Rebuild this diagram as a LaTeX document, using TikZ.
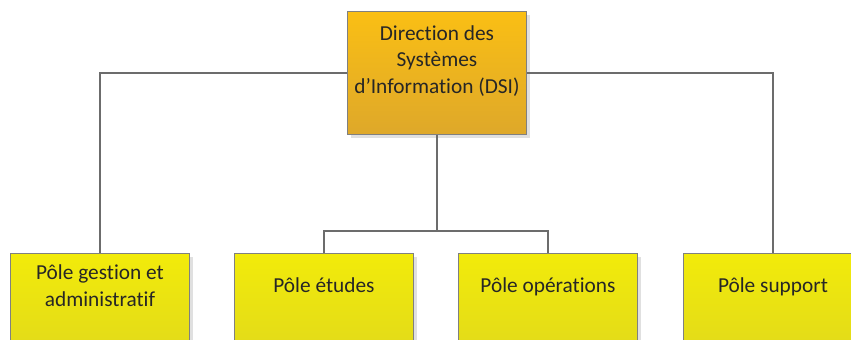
\documentclass[tikz,border=0pt]{standalone}
\usepackage{fontspec}
\setmainfont{Carlito}[Ligatures=NoCommon]
\usetikzlibrary{shadows}
\definecolor{dsitop}{RGB}{250,191,20}
\definecolor{dsibot}{RGB}{222,168,42}
\definecolor{poletop}{RGB}{242,235,10}
\definecolor{polebot}{RGB}{222,214,30}
\definecolor{linkgray}{RGB}{108,108,108}
\definecolor{boxgray}{RGB}{128,128,128}
\tikzset{
  unit/.style={draw=boxgray, line width=0.8pt, minimum width=5.37cm, minimum height=3.69cm,
    anchor=north west, drop shadow={shadow xshift=0.12cm, shadow yshift=-0.12cm, fill=black!12, opacity=1}},
  dsi/.style={unit, top color=dsitop, bottom color=dsibot},
  pole/.style={unit, top color=poletop, bottom color=polebot},
  lbl/.style={align=center, font=\fontsize{18.2}{22.4}\selectfont, text=black!85, text depth=0.25em},
  link/.style={draw=linkgray, line width=2.4pt}
}
\begin{document}
\begin{tikzpicture}
\useasboundingbox (0,0) rectangle (25.53,-10.2);
\clip (0,0) rectangle (25.53,-10.2);
% boxes
\node[dsi] (dsi) at (10.41,-0.33) {};
\node[pole] (gest) at (0.30,-7.59) {};
\node[pole] (etud) at (7.02,-7.59) {};
\node[pole] (oper) at (13.74,-7.59) {};
\node[pole] (supp) at (20.49,-7.59) {};
% texts
\node[lbl] (dsitxt) at ([yshift=-1.5cm]dsi.north) {Direction des\\Systèmes\\d’Information (DSI)};
\node[lbl] (gesttxt) at ([yshift=-1.02cm]gest.north) {Pôle gestion et\\administratif};
\node[lbl] (etudtxt) at ([yshift=-1.02cm]etud.north) {Pôle études};
\node[lbl] (opertxt) at ([yshift=-1.02cm]oper.north) {Pôle opérations};
\node[lbl] (supptxt) at ([yshift=-1.02cm]supp.north) {Pôle support};
% links
\coordinate (fork) at ([yshift=-2.88cm]dsi.south);
\draw[link] (dsi.west) -| (gest.north);
\draw[link] (dsi.east) -| (supp.north);
\draw[link] (dsi.south) -- (fork) -| (etud.north);
\draw[link] (fork) -| (oper.north);
\end{tikzpicture}
\end{document}
